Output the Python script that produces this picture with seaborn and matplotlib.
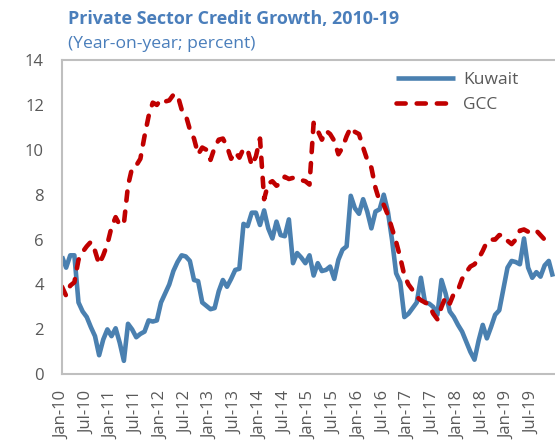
import matplotlib
matplotlib.use("Agg")
import matplotlib.pyplot as plt
import seaborn as sns
import pandas as pd
import numpy as np

# ---- data (monthly, Jan-2010 .. Dec-2019) ----
kuwait = [5.25, 4.75, 5.3, 5.3, 3.2, 2.8, 2.55, 2.1, 1.7, 0.85,
          1.55, 2.0, 1.7, 2.05, 1.4, 0.6, 2.25, 2.0, 1.65, 1.8,
          1.9, 2.4, 2.35, 2.4, 3.2, 3.6, 4.0, 4.6, 5.0, 5.3,
          5.25, 5.05, 4.2, 4.15, 3.2, 3.05, 2.9, 2.95, 3.7, 4.2,
          3.9, 4.25, 4.65, 4.7, 6.7, 6.6, 7.2, 7.2, 6.65, 7.3,
          6.5, 6.05, 6.8, 6.2, 6.15, 6.9, 4.95, 5.4, 5.2, 4.95,
          5.3, 4.4, 4.95, 4.6, 4.65, 4.8, 4.25, 5.1, 5.55, 5.7,
          7.95, 7.4, 7.15, 7.8, 7.25, 6.5, 7.25, 7.35, 8.0, 7.25,
          6.0, 4.5, 4.1, 2.55, 2.7, 2.95, 3.2, 4.3, 3.2, 3.15,
          3.0, 2.65, 4.2, 3.6, 2.8, 2.55, 2.2, 1.9, 1.45, 1.0,
          0.65, 1.5, 2.2, 1.6, 2.1, 2.65, 2.85, 3.8, 4.75, 5.05,
          5.0, 4.9, 6.05, 4.75, 4.3, 4.55, 4.35, 4.85, 5.05, 4.35]

gcc = [3.9, 3.5, 3.95, 4.1, 5.1, 5.45, 5.7, 5.9, 5.5, 4.9,
       5.3, 5.8, 6.55, 7.0, 6.65, 6.7, 8.4, 9.2, 9.3, 9.6,
       10.6, 11.5, 12.1, 12.0, 12.25, 12.15, 12.2, 12.45, 12.45, 11.8,
       11.55, 10.9, 10.5, 9.8, 10.1, 10.0, 9.55, 10.1, 10.45, 10.5,
       10.15, 9.6, 9.9, 9.65, 10.05, 10.0, 9.3, 9.7, 10.5, 7.8,
       8.5, 8.6, 8.4, 8.5, 8.8, 8.7, 8.75, 8.75, 8.65, 8.6,
       8.45, 11.2, 10.85, 10.45, 10.85, 10.7, 10.4, 9.8, 10.1, 10.6,
       11.0, 10.8, 10.7, 10.1, 9.55, 9.2, 8.3, 7.7, 7.55, 7.1,
       6.5, 5.9, 5.2, 4.4, 4.0, 3.75, 3.45, 3.3, 3.2, 3.1,
       2.7, 2.45, 3.0, 3.45, 3.15, 3.6, 3.75, 4.25, 4.55, 4.8,
       4.9, 5.15, 5.5, 5.9, 6.0, 6.0, 6.2, 6.2, 5.95, 5.8,
       6.0, 6.4, 6.45, 6.35, 6.3, 6.4, 6.2, 6.0, 5.98, 5.98]

years = [str(y)[2:] for y in range(2010, 2020)]
tick_labels = [f"{m}-{y}" for y in years for m in ("Jan", "Jul")]
series_names = ["Kuwait", "GCC"]

months = list(range(len(kuwait)))
df = pd.DataFrame({
    "month": months * 2,
    "value": kuwait + gcc,
    "series": ["Kuwait"] * len(kuwait) + ["GCC"] * len(gcc),
})

# ---- styling ----
sns.set_style("white")
plt.rcParams["font.family"] = ["Open Sans", "DejaVu Sans"]

W, H = 555, 444
fig = plt.figure(figsize=(W / 100, H / 100), dpi=100)
ax_left, ax_right, ax_top, ax_bottom = 62, 557, 60, 374.3
ax = fig.add_axes([ax_left / W, 1 - ax_bottom / H,
                   (ax_right - ax_left) / W, (ax_bottom - ax_top) / H])

blue = "#4A80B0"
red = "#C00000"
sns.lineplot(data=df, x="month", y="value", hue="series", style="series",
             hue_order=series_names, style_order=series_names,
             palette={"Kuwait": blue, "GCC": red},
             dashes={"Kuwait": "", "GCC": (2.0, 2.4)},
             linewidth=3.3, ax=ax, legend=False)
for ln in ax.get_lines():
    ln.set_dash_capstyle("round")
    ln.set_solid_capstyle("butt")
    ln.set_solid_joinstyle("round")

ax.set_xlim(0, 120)
ax.set_ylim(0, 14)
ax.set_xlabel("")
ax.set_ylabel("")

grey_txt = "#595959"
spine_c = "#BFBFBF"
for s in ax.spines.values():
    s.set_color(spine_c)
    s.set_linewidth(1.5)

ax.set_yticks(range(0, 15, 2))
ax.set_xticks(range(0, 120, 6))
ax.set_xticklabels(tick_labels, rotation=90)
ax.set_xticks(range(0, 121, 12), minor=True)
ax.tick_params(axis="x", which="major", length=0, pad=12, labelsize=12, labelcolor=grey_txt)
ax.tick_params(axis="x", which="minor", direction="in", length=5, width=1.5, color=spine_c)
ax.tick_params(axis="y", which="major", direction="in", length=5, width=1.5, color=spine_c,
               pad=13, labelsize=12, labelcolor=grey_txt)

# legend
from matplotlib.lines import Line2D
handles = [Line2D([], [], color=blue, lw=3.3, solid_capstyle="butt"),
           Line2D([], [], color=red, lw=3.3, dashes=(2.0, 2.4), dash_capstyle="round")]
ax.legend(handles, series_names, loc="upper left", bbox_to_anchor=((384 - ax_left) / (ax_right - ax_left), 1.0),
          frameon=False, fontsize=12.5, labelcolor=grey_txt, handlelength=3.4,
          handletextpad=0.45, labelspacing=0.5, borderaxespad=0.3)

title_c = "#4A7EBB"
fig.text(68 / W, 1 - 24 / H, "Private Sector Credit Growth, 2010-19", color=title_c,
         fontsize=12.9, fontweight="bold", va="baseline", ha="left")
fig.text(68 / W, 1 - 48 / H, "(Year-on-year; percent)", color=title_c,
         fontsize=12.6, va="baseline", ha="left")

fig.savefig("out.png", dpi=100)
